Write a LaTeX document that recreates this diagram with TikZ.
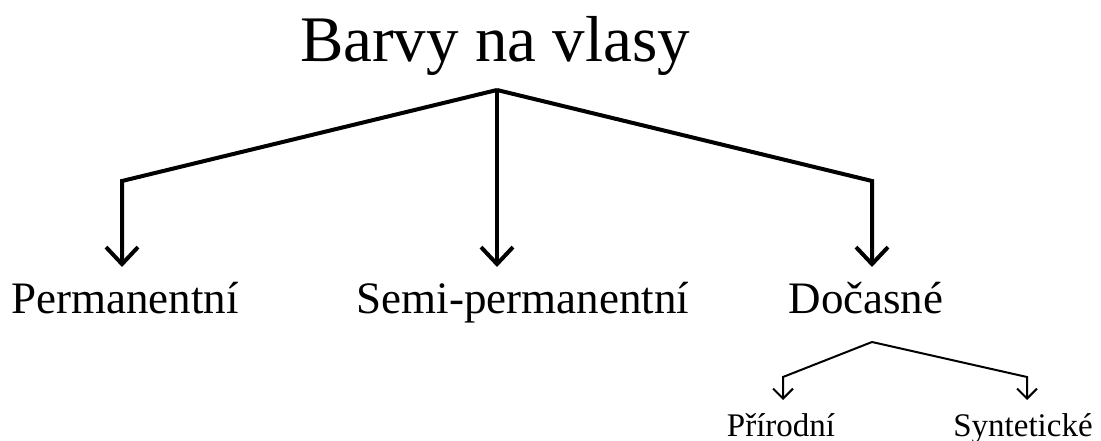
\documentclass[tikz,border=0pt]{standalone}
\usepackage{fontspec}
\setmainfont{Liberation Serif}
\usepackage{tikz}
\usetikzlibrary{arrows.meta}

\begin{document}
\begin{tikzpicture}[x=1pt,y=-1pt,
  bigarrow/.style={line width=4pt, line join=miter, -{Straight Barb[length=17pt,width=32pt]}},
  smallarrow/.style={line width=2pt, line join=miter, -{Straight Barb[length=10pt,width=20pt]}},
  mid/.style={anchor=base, inner sep=0pt, font=\fontsize{45}{50}\selectfont},
  low/.style={anchor=base, inner sep=0pt, font=\fontsize{33}{36}\selectfont}]
\useasboundingbox (0,0) rectangle (1101,441);
\node[anchor=base, inner sep=0pt, font=\fontsize{65}{70}\selectfont] (title) at (495,62) {Barvy na vlasy};
\node[mid] (perm) at (125,313) {Permanentní};
\node[mid] (semi) at (523,313) {Semi-permanentní};
\node[mid] (docas) at (866,313) {Dočasné};
\node[low] (prir) at (781,436) {Přírodní};
\node[low] (synt) at (1023,436) {Syntetické};
% main branches
\coordinate (apex) at (497,90);
\coordinate (permtip) at (122,267);
\coordinate (semitip) at (497,267);
\coordinate (docastip) at (872,267);
\draw[bigarrow] (apex) -- (122,181) -- (permtip);
\draw[bigarrow] (apex) -- (semitip);
\draw[bigarrow] (apex) -- (872,181) -- (docastip);
% sub branches
\coordinate (subapex) at (872,342);
\coordinate (prirtip) at (783,400);
\coordinate (synttip) at (1027,400);
\draw[smallarrow] (subapex) -- (783,377) -- (prirtip);
\draw[smallarrow] (subapex) -- (1027,377) -- (synttip);
\end{tikzpicture}
\end{document}
